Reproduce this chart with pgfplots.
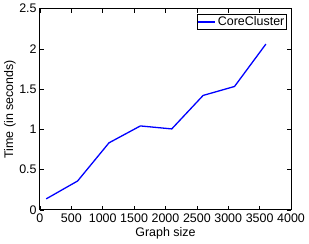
\documentclass[border=0pt]{standalone}
\usepackage{pgfplots}
\pgfplotsset{compat=1.18}
\usepackage{fontspec}
\setmainfont{Liberation Sans}
\begin{document}
\fontsize{12.5}{14}\selectfont
\begin{tikzpicture}
\begin{axis}[
  scale only axis,
  width=252pt, height=202pt,
  xmin=0, xmax=4000, ymin=0, ymax=2.5,
  xtick={0,500,...,4000}, ytick={0,0.5,1,1.5,2,2.5},
  yticklabels={0,0.5,1,1.5,2,2.5},
  scaled x ticks=false,
  xticklabel style={/pgf/number format/1000 sep={}},
  /pgf/number format/assume math mode=true,
  tick align=inside, tick pos=both,
  major tick length=4pt,
  axis line style={line width=0.9pt},
  tick style={black, line width=0.6pt},
  xlabel={Graph size}, ylabel={Time (in seconds)},
  xlabel style={yshift=4pt},
  ylabel style={yshift=-5pt},
  xticklabel style={yshift=0pt},
  yticklabel style={xshift=1pt},
  legend style={at={(0.985,0.975)}, anchor=north east, draw=black, line width=0.8pt, inner sep=0.5pt, font=\fontsize{12.5}{14}\selectfont, legend cell align=left},
  legend image post style={line width=1.3pt},
]
\addplot[blue, line width=1.3pt] coordinates {
(100,0.136) (600,0.358) (1100,0.832) (1600,1.042) (2100,1.005) (2600,1.421) (3100,1.532) (3600,2.059)
};
\addlegendentry{CoreCluster}
\end{axis}
\end{tikzpicture}
\end{document}
